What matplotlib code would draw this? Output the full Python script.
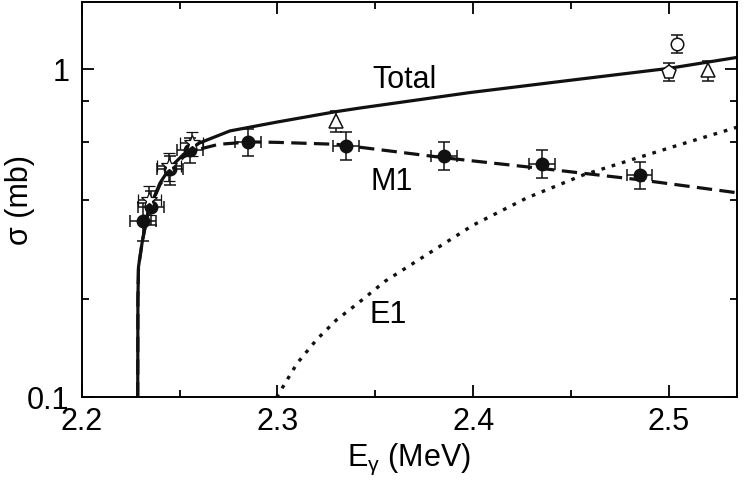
import numpy as np
import matplotlib.pyplot as plt

plt.rcParams['font.family'] = ['Liberation Sans', 'DejaVu Sans']
plt.rcParams['mathtext.fontset'] = 'custom'
plt.rcParams['mathtext.rm'] = 'Liberation Sans'
plt.rcParams['mathtext.it'] = 'Liberation Sans'

# curves (E in MeV, sigma in mb)
e_total = [2.2286, 2.2287, 2.2290, 2.2310, 2.2340, 2.2400, 2.2450, 2.2520, 2.2600,
           2.2757, 2.3000, 2.3300, 2.3422, 2.3983, 2.4500, 2.5000, 2.5347]
s_total = [0.100, 0.200, 0.250, 0.300, 0.370, 0.450, 0.500, 0.550, 0.595,
           0.648, 0.690, 0.742, 0.761, 0.848, 0.925, 1.005, 1.085]

e_m1 = [2.2286, 2.2287, 2.2290, 2.2310, 2.2340, 2.2400, 2.2450, 2.2520, 2.2600,
        2.2700, 2.2860, 2.3000, 2.3300, 2.3850, 2.4350, 2.4850, 2.5347]
s_m1 = [0.100, 0.200, 0.250, 0.300, 0.368, 0.445, 0.492, 0.540, 0.570,
        0.590, 0.600, 0.598, 0.590, 0.537, 0.498, 0.460, 0.420]

e_e1 = [2.2995, 2.3100, 2.3200, 2.3300, 2.3413, 2.3550, 2.4000, 2.4273, 2.4562, 2.5000, 2.5347]
s_e1 = [0.100, 0.127, 0.150, 0.172, 0.194, 0.226, 0.335, 0.405, 0.476, 0.575, 0.665]

# data: filled circles
e_fc = [2.2313, 2.2355, 2.2450, 2.2553, 2.285, 2.335, 2.385, 2.435, 2.485]
s_fc = [0.345, 0.380, 0.495, 0.567, 0.600, 0.585, 0.545, 0.515, 0.476]
ds_fc = [0.045, 0.045, 0.05, 0.05, 0.055, 0.057, 0.053, 0.05, 0.046]
de_fc = [0.0065] * 9

# stars
e_st = [2.2345, 2.2447, 2.2562]
s_st = [0.400, 0.505, 0.595]
ds_st = [0.04, 0.05, 0.05]
de_st = [0.006, 0.006, 0.006]

# open triangles
e_tr = [2.330, 2.520]
s_tr = [0.695, 0.990]
ds_tr = [0.05, 0.07]

# open circle
e_oc = [2.504]
s_oc = [1.195]
ds_oc = [0.075]

# open pentagon
e_pe = [2.500]
s_pe = [0.980]
ds_pe = [0.06]

fig = plt.figure(figsize=(7.47, 4.80), dpi=100)
ax = fig.add_axes([0.1094, 0.172, 0.8772, 0.8238])

ax.plot(e_total, s_total, color='#111111', lw=2.3, solid_capstyle='butt')
ax.plot(e_m1, s_m1, color='#111111', lw=2.3, dashes=(4.8, 2.3))
ax.plot(e_e1, s_e1, color='#111111', lw=2.4, dashes=(1.1, 2.1))

eb = dict(ecolor='#111111', elinewidth=1.1, capsize=4.5, capthick=1.1, ls='none')
ax.errorbar(e_fc, s_fc, yerr=ds_fc, xerr=de_fc, fmt='o', mfc='#111111', mec='#111111',
            ms=9, zorder=4, **eb)
ax.errorbar(e_st, s_st, yerr=ds_st, xerr=de_st, fmt='*', mfc='white', mec='#111111',
            mew=0.9, ms=12, zorder=5, **eb)
ax.errorbar(e_tr, s_tr, yerr=ds_tr, fmt='^', mfc='white', mec='#111111',
            mew=1.1, ms=10, zorder=5, **eb)
ax.errorbar(e_oc, s_oc, yerr=ds_oc, fmt='o', mfc='white', mec='#111111',
            mew=1.1, ms=9, zorder=5, **eb)
ax.errorbar(e_pe, s_pe, yerr=ds_pe, fmt='p', mfc='white', mec='#111111',
            mew=1.1, ms=10, zorder=5, **eb)

ax.text(2.3651, 0.874, 'Total', fontsize=22, ha='center', va='baseline')
ax.text(2.3583, 0.429, 'M1', fontsize=22, ha='center', va='baseline')
ax.text(2.3566, 0.169, 'E1', fontsize=22, ha='center', va='baseline')

ax.set_yscale('log')
ax.set_xlim(2.2, 2.5347)
ax.set_ylim(0.1, 1.6)
ax.set_xticks([2.2, 2.3, 2.4, 2.5])
ax.set_xticklabels(['2.2', '2.3', '2.4', '2.5'])
ax.set_xticks([2.25, 2.35, 2.45], minor=True)
ax.set_yticks([0.1, 1])
ax.set_yticklabels(['0.1', '1'])
ax.set_yticks([0.2, 0.4, 0.6, 0.8], minor=True)
ax.yaxis.set_minor_formatter(plt.NullFormatter())

ax.tick_params(which='both', direction='in', top=True, right=True, width=1.3, labelsize=22)
ax.tick_params(which='major', length=8.5)
ax.tick_params(which='minor', length=5)
ax.tick_params(axis='x', pad=7)
ax.tick_params(axis='y', pad=9)
for s in ax.spines.values():
    s.set_linewidth(1.4)

ax.set_xlabel(r'E$_{\mathrm{\gamma}}$ (MeV)', fontsize=22, labelpad=3)
ax.set_ylabel('σ (mb)', fontsize=22)
ax.yaxis.set_label_coords(-0.072, 0.5)

fig.savefig('out.png', dpi=100)
